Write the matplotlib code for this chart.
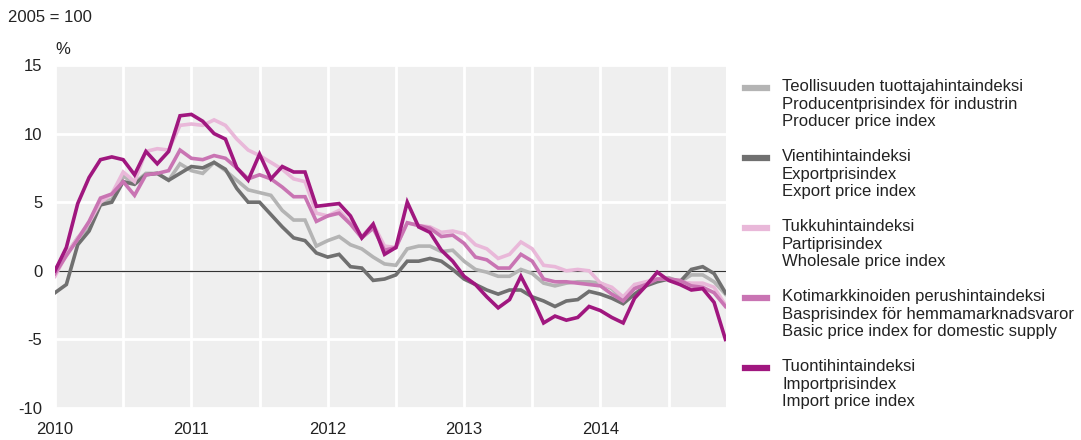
import numpy as np
import matplotlib
matplotlib.use("Agg")
import matplotlib.pyplot as plt
from matplotlib.lines import Line2D

plt.rcParams['font.family'] = ['Liberation Sans', 'DejaVu Sans']
plt.rcParams['axes.unicode_minus'] = False

# monthly change, Jan 2010 - Dec 2014
producer = [0.1, 1.2, 2.4, 3.2, 5.0, 5.2, 6.9, 6.4, 7.1, 7.1, 6.6,
            7.8, 7.3, 7.1, 7.9, 7.3, 6.6, 5.9, 5.7, 5.5, 4.4, 3.7, 3.7,
            1.8, 2.2, 2.5, 1.9, 1.6, 1.0, 0.5, 0.4, 1.6, 1.8, 1.8, 1.4,
            1.5, 0.7, 0.1, -0.1, -0.4, -0.4, 0.1, -0.2, -0.9, -1.1, -0.9,
            -0.8, -0.8, -0.9, -1.3, -2.1, -1.2, -1.0, -0.6, -0.5, -0.8,
            -0.3, -0.3, -0.8, -1.7]
export = [-1.6, -1.0, 1.9, 2.9, 4.8, 5.0, 6.5, 6.3, 7.0, 7.1, 6.6,
          7.1, 7.6, 7.5, 7.9, 7.4, 6.0, 5.0, 5.0, 4.1, 3.2, 2.4, 2.2,
          1.3, 1.0, 1.2, 0.3, 0.2, -0.7, -0.6, -0.3, 0.7, 0.7, 0.9, 0.7,
          0.1, -0.6, -1.0, -1.4, -1.7, -1.4, -1.4, -1.9, -2.2, -2.6, -2.2,
          -2.1, -1.5, -1.7, -2.0, -2.4, -1.7, -1.1, -0.8, -0.6, -0.8,
          0.1, 0.3, -0.2, -1.6]
wholesale = [-0.4, 1.2, 2.4, 3.5, 5.0, 5.6, 7.2, 6.5, 8.7, 8.9, 8.8,
             10.6, 10.7, 10.6, 11.0, 10.6, 9.6, 8.8, 8.4, 7.9, 7.4, 6.7,
             6.5, 4.2, 4.0, 4.4, 3.5, 2.5, 3.4, 1.8, 1.7, 3.5, 3.3, 3.2,
             2.8, 2.9, 2.7, 1.9, 1.6, 0.9, 1.2, 2.1, 1.6, 0.4, 0.3, 0.0,
             0.1, 0.0, -0.9, -1.2, -1.9, -1.0, -0.8, -0.6, -0.6, -0.8,
             -0.9, -0.9, -1.2, -2.5]
domestic = [-0.2, 1.1, 2.3, 3.6, 5.3, 5.6, 6.5, 5.5, 7.0, 7.1, 7.3,
            8.8, 8.2, 8.1, 8.4, 8.2, 7.5, 6.7, 7.0, 6.7, 6.1, 5.4, 5.4,
            3.6, 4.0, 4.2, 3.4, 2.4, 3.1, 1.5, 1.7, 3.5, 3.3, 3.1, 2.5,
            2.6, 2.0, 1.0, 0.8, 0.2, 0.2, 1.2, 0.7, -0.6, -0.8, -0.8,
            -0.9, -1.0, -1.1, -1.7, -2.2, -1.3, -1.0, -0.6, -0.6, -0.7,
            -1.1, -1.2, -1.6, -2.6]
imports = [0.0, 1.7, 4.9, 6.8, 8.1, 8.3, 8.1, 7.0, 8.7, 7.8, 8.7,
           11.3, 11.4, 10.9, 10.0, 9.6, 7.5, 6.6, 8.5, 6.7, 7.6, 7.2,
           7.2, 4.7, 4.8, 4.9, 4.0, 2.4, 3.4, 1.2, 1.7, 5.0, 3.2, 2.8,
           1.5, 0.7, -0.4, -1.0, -1.9, -2.7, -2.1, -0.4, -2.0, -3.8, -3.3,
           -3.6, -3.4, -2.6, -2.9, -3.4, -3.8, -2.0, -1.1, -0.1, -0.7,
           -1.0, -1.4, -1.3, -2.3, -5.0]

series = [producer, export, wholesale, domestic, imports]
colors = ['#b4b4b4', '#707070', '#e9b8d9', '#c974b3', '#a0177f']
labels = ['Teollisuuden tuottajahintaindeksi\nProducentprisindex för industrin\nProducer price index',
          'Vientihintaindeksi\nExportprisindex\nExport price index',
          'Tukkuhintaindeksi\nPartiprisindex\nWholesale price index',
          'Kotimarkkinoiden perushintaindeksi\nBasprisindex för hemmamarknadsvaror\nBasic price index for domestic supply',
          'Tuontihintaindeksi\nImportprisindex\nImport price index']
years = ['2010', '2011', '2012', '2013', '2014']

months = np.arange(len(imports))
fs = 12
txtc = '#222222'

fig = plt.figure(figsize=(10.81, 4.40), dpi=100)
ax = fig.add_axes([55/1081, 1-408/440, 671/1081, 343/440])
ax.set_facecolor('#efefef')

for s, c in zip(series, colors):
    ax.plot(months, s, color=c, lw=2.6, solid_joinstyle='miter', zorder=3)

ax.axhline(0, color='#333333', lw=0.9, zorder=2)

ax.set_xlim(0, 59.05)
ax.set_ylim(-10, 15)
ax.set_xticks(np.arange(0, 60, 6))
ax.set_xticklabels([])
ax.set_yticks([-10, -5, 0, 5, 10, 15])
ax.grid(True, color='white', lw=2)
ax.set_axisbelow(True)
for sp in ax.spines.values():
    sp.set_visible(False)
ax.tick_params(length=0)
ax.tick_params(axis='y', labelsize=fs, pad=9, labelcolor=txtc)
for i, y in enumerate(years):
    ax.text(i * 12, -11.0, y, ha='center', va='top', fontsize=fs, color=txtc)

fig.text(8/1081, 1-18/440, '2005 = 100', fontsize=fs, va='center', color=txtc)
fig.text(55/1081, 1-50/440, '%', fontsize=fs, va='center', color=txtc)

# legend
for i, (c, lab) in enumerate(zip(colors, labels)):
    yc = 1 - (88 + i * 70) / 440
    fig.add_artist(Line2D([745/1081, 767/1081], [yc, yc], color=c, lw=4.5,
                          transform=fig.transFigure))
    fig.text(782/1081, yc + 9/440, lab, fontsize=fs, va='top', color=txtc,
             linespacing=1.22)

fig.savefig('out.png', dpi=100)
